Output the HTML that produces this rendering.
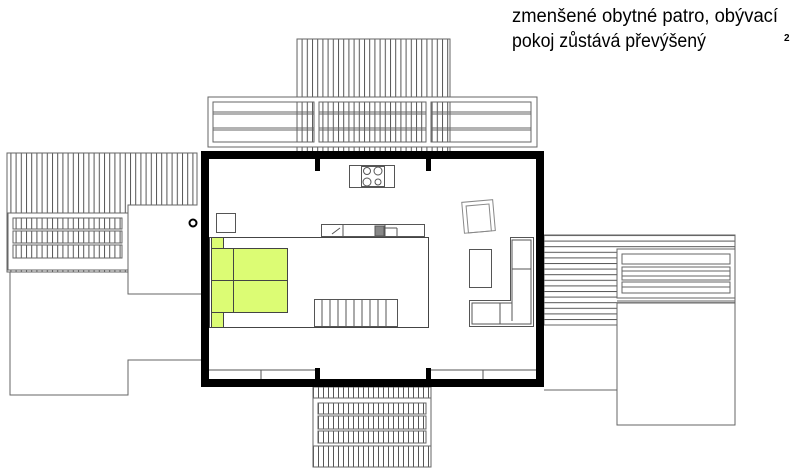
<!DOCTYPE html>
<html><head><meta charset="utf-8"><style>
html,body{margin:0;padding:0;background:#fff;width:797px;height:474px;overflow:hidden}
svg{display:block}
</style></head><body>
<svg width="797" height="474" viewBox="0 0 797 474" xmlns="http://www.w3.org/2000/svg">
<defs>
<pattern id="vs" width="5.2" height="10" patternUnits="userSpaceOnUse"><line x1="0.5" y1="0" x2="0.5" y2="10" stroke="#555" stroke-width="1"/></pattern>
<pattern id="vs2" width="5" height="10" patternUnits="userSpaceOnUse" x="313"><line x1="0.5" y1="0" x2="0.5" y2="10" stroke="#555" stroke-width="1"/></pattern>
<pattern id="hs" width="10" height="5.6" patternUnits="userSpaceOnUse" y="235"><line x1="0" y1="0.5" x2="10" y2="0.5" stroke="#555" stroke-width="1"/></pattern>
</defs>
<g fill="none" stroke="#666" stroke-width="1">
<!-- top pergola -->
<rect x="297" y="39" width="153" height="113" fill="url(#vs)"/>
<rect x="208" y="97" width="329" height="50" fill="#fff"/>
<g fill="url(#vs)">
<rect x="213" y="102" width="101" height="40" fill="#fff"/>
<rect x="297" y="102" width="17" height="40"/>
<rect x="319" y="102" width="107" height="40"/>
<rect x="431" y="102" width="100" height="40" fill="#fff"/>
<rect x="431" y="102" width="19" height="40"/>
</g>
<path d="M213 112H314M213 114H314M213 128H314M213 130H314M319 112H426M319 114H426M319 128H426M319 130H426M431 112H531M431 114H531M431 128H531M431 130H531"/>
<!-- left deck -->
<path d="M7 153H197V205H128V272H7Z" fill="url(#vs)"/>
<rect x="8" y="213" width="120" height="57" fill="#fff"/>
<rect x="13" y="218" width="109" height="11" fill="url(#vs)"/>
<rect x="13" y="231" width="109" height="12" fill="url(#vs)"/>
<rect x="13" y="245" width="109" height="13" fill="url(#vs)"/>
<path d="M10 272V395H128V360H201M128 205V294H201"/>
<!-- right deck -->
<path d="M544 235H735V303H617V325H544Z" fill="url(#hs)"/>
<rect x="617" y="249" width="118" height="49" fill="#fff"/>
<rect x="622" y="254" width="108" height="10"/>
<rect x="622" y="267" width="108" height="13"/>
<path d="M622 271H730M622 276H730"/>
<rect x="622" y="282" width="108" height="11"/>
<path d="M622 287H730"/>
<path d="M617 301H735M617 303V425H735V303M544 390H617"/>
<!-- bottom pergola -->
<rect x="313" y="387" width="118" height="80" fill="url(#vs2)"/>
<rect x="313" y="398" width="118" height="48" fill="#fff"/>
<rect x="318" y="403" width="108" height="11" fill="url(#vs2)"/>
<rect x="318" y="416" width="108" height="13" fill="url(#vs2)"/>
<rect x="318" y="431" width="108" height="12" fill="url(#vs2)"/>
</g>
<!-- walls -->
<rect x="205" y="155" width="335" height="228" fill="#fff" stroke="#000" stroke-width="8"/>
<g fill="#000">
<rect x="315" y="158" width="5" height="13"/><rect x="426" y="158" width="5" height="13"/>
<rect x="315" y="368" width="5" height="12"/><rect x="426" y="368" width="5" height="12"/>
</g>
<circle cx="193" cy="223" r="3.5" fill="none" stroke="#000" stroke-width="2"/>
<g fill="none" stroke="#555" stroke-width="1">
<path d="M209 370H315M431 370H536M261 370V379M483 370V379"/>
<!-- cooktop -->
<rect x="349.5" y="165.5" width="45" height="22"/>
<rect x="361.5" y="166.5" width="23" height="20"/>
<circle cx="367" cy="171" r="3.5"/><circle cx="378" cy="171" r="4"/><circle cx="367" cy="182" r="4"/><circle cx="378" cy="182" r="3"/>
<!-- counter -->
<rect x="321.5" y="224.5" width="103" height="12"/>
<path d="M343 225V236M385 225V236M397 228V236M385 228H397M332 234L340 228"/>
<rect x="375" y="226" width="9" height="10" fill="#888" stroke="#555"/>
<!-- gallery -->
<rect x="209.5" y="237.5" width="219" height="90" stroke="#444"/>
<rect x="314.5" y="299.5" width="83" height="27"/>
<path d="M322 300V327M330 300V327M338 300V327M346 300V327M354 300V327M362 300V327M370 300V327M378 300V327M386 300V327"/>
<rect x="216.5" y="213.5" width="19" height="19"/>
<!-- living -->
<rect x="469.5" y="249.5" width="22" height="38"/>
<path d="M469.5 300.5H510.5V237.5H533.5V326.5H469.5Z"/>
<path d="M472 303H512V240H531V324H472Z"/>
<path d="M512 269H531M512 302V321M500 303V324"/>
<g transform="rotate(-5 478 216)" stroke="#888">
<rect x="463" y="201" width="31" height="31"/><rect x="467" y="205" width="23" height="27"/>
</g>
</g>
<!-- bed -->
<g fill="#dcfc74" stroke="#444" stroke-width="1">
<rect x="211.5" y="237.5" width="12" height="11"/>
<rect x="211.5" y="312.5" width="12" height="15"/>
<rect x="211.5" y="248.5" width="76" height="64"/>
<path d="M233.5 249V312M212 280.5H287" fill="none"/>
</g>
<text x="512" y="22" font-family="Liberation Sans, sans-serif" font-size="19" fill="#000" textLength="266" lengthAdjust="spacingAndGlyphs">zmenšené obytné patro, obývací</text>
<text x="512" y="47" font-family="Liberation Sans, sans-serif" font-size="19" fill="#000" textLength="194" lengthAdjust="spacingAndGlyphs">pokoj zůstává převýšený</text>
<text x="784" y="41" font-family="Liberation Sans, sans-serif" font-size="10" font-weight="bold" fill="#000">2</text>
</svg>
</body></html>
